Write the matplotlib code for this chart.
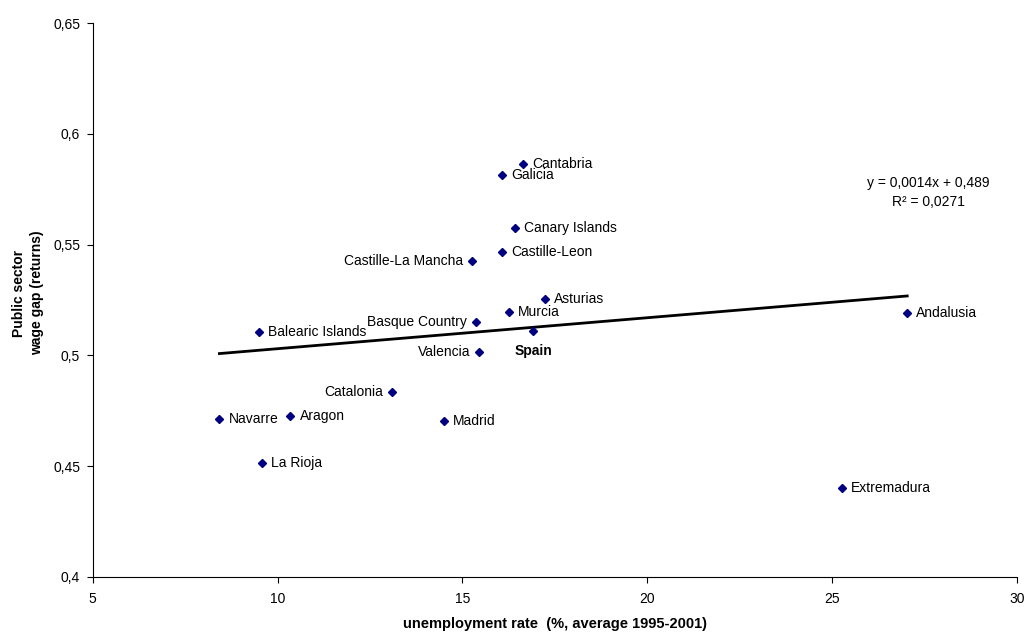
import numpy as np
import matplotlib
matplotlib.use("Agg")
import matplotlib.pyplot as plt
from matplotlib.ticker import FuncFormatter, MultipleLocator

plt.rcParams["font.family"] = ["Liberation Sans", "DejaVu Sans"]

# dati
regions = ["Cantabria", "Galicia", "Canary Islands", "Castille-Leon",
           "Castille-La Mancha", "Asturias", "Murcia", "Basque Country",
           "Valencia", "Balearic Islands", "Catalonia", "Navarre", "Aragon",
           "Madrid", "La Rioja", "Andalusia", "Extremadura", "Spain"]
unemployment = [16.63, 16.08, 16.42, 16.08, 15.27, 17.22, 16.26, 15.36,
                15.45, 9.50, 13.09, 8.43, 10.35, 14.50, 9.58, 27.02, 25.25, 16.91]
wage_gap = [0.5864, 0.5813, 0.5574, 0.5467, 0.5425, 0.5255, 0.5196, 0.5152,
            0.5015, 0.5105, 0.4834, 0.4711, 0.4726, 0.4705, 0.4512, 0.5190,
            0.4402, 0.5110]
# da che parte va l'etichetta
label_side = ["r", "r", "r", "r", "l", "r", "r", "l", "l", "r", "l", "r", "r",
              "r", "r", "r", "r", "b"]

# retta di tendenza (come riportata nel grafico)
slope = 0.0014
intercept = 0.489
eq_text = "y = 0,0014x + 0,489\nR² = 0,0271"

fig = plt.figure(figsize=(10.29, 6.33), dpi=100)
ax = fig.add_axes([0.0899, 0.0889, 0.8989, 0.8743])

ax.plot(unemployment, wage_gap, "D", color="#000080", markersize=4.2,
        linestyle="none", zorder=3)

x_fit = np.array([min(unemployment), max(unemployment)])
ax.plot(x_fit, slope * x_fit + intercept, color="black", linewidth=2, zorder=2)

for name, x, y, side in zip(regions, unemployment, wage_gap, label_side):
    if side == "r":
        ax.annotate(name, (x, y), xytext=(6.5, 0), textcoords="offset points",
                    ha="left", va="center", fontsize=10)
    elif side == "l":
        ax.annotate(name, (x, y), xytext=(-6.5, 0), textcoords="offset points",
                    ha="right", va="center", fontsize=10)
    else:
        ax.annotate(name, (x, y), xytext=(0, -14.5), textcoords="offset points",
                    ha="center", va="center", fontsize=10, fontweight="bold")

ax.text(27.6, 0.5737, eq_text, ha="center", va="center", fontsize=10,
        linespacing=1.45)

ax.set_xlim(5, 30)
ax.set_ylim(0.4, 0.65)
ax.xaxis.set_major_locator(MultipleLocator(5))
ax.yaxis.set_major_locator(MultipleLocator(0.05))
ax.xaxis.set_major_formatter(FuncFormatter(lambda v, p: f"{v:g}"))
ax.yaxis.set_major_formatter(FuncFormatter(lambda v, p: f"{v:.2f}".rstrip("0").replace(".", ",")))

for s in ["top", "right"]:
    ax.spines[s].set_visible(False)
for s in ["left", "bottom"]:
    ax.spines[s].set_linewidth(0.8)
ax.tick_params(direction="out", length=4, width=0.8, labelsize=10)
ax.tick_params(axis="x", pad=7)
ax.tick_params(axis="y", pad=5)

ax.set_xlabel("unemployment rate  (%, average 1995-2001)", fontsize=10.5,
              fontweight="bold", labelpad=8)
fig.text(28 / 1029, 1 - 293 / 633, "Public sector\nwage gap (returns)",
         rotation=90, ha="center", va="center", multialignment="center",
         fontsize=10, fontweight="bold", linespacing=1.3)

fig.savefig("out.png", dpi=100)
